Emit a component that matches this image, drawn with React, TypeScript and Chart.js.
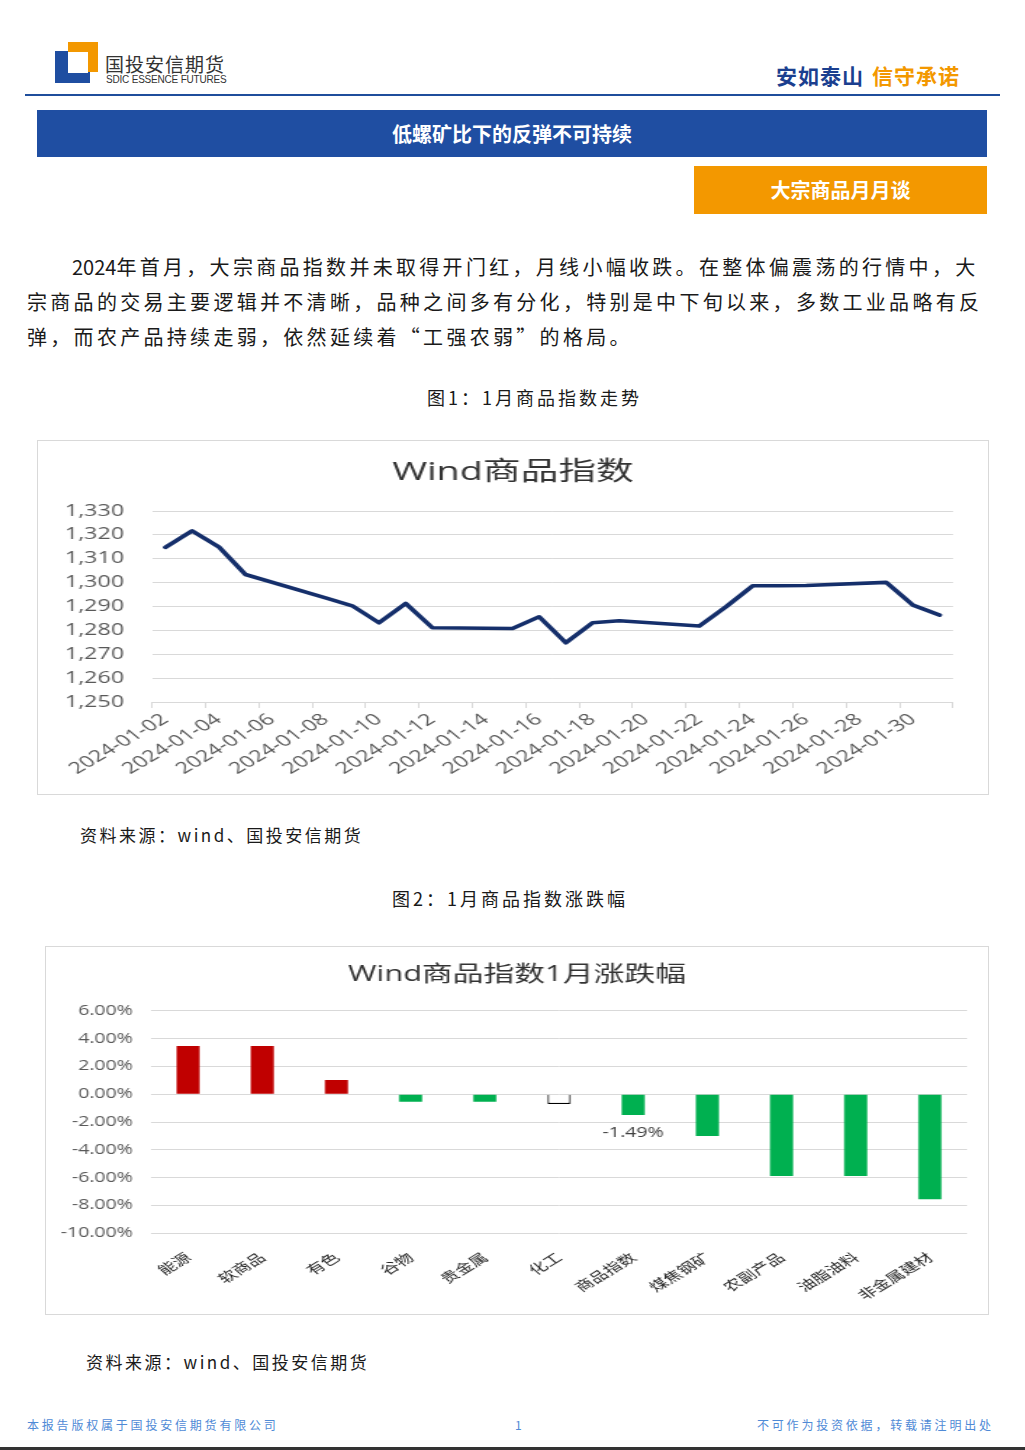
import React, { useEffect, useRef } from 'react';
import { Chart, registerables } from 'chart.js';

Chart.register(...registerables);

// ---------- Data: Figure 1 (Wind commodity index, daily close, Jan 2024) ----------
const indexDates = [
  '2024-01-02', '2024-01-03', '2024-01-04', '2024-01-05', '2024-01-08', '2024-01-09',
  '2024-01-10', '2024-01-11', '2024-01-12', '2024-01-15', '2024-01-16', '2024-01-17',
  '2024-01-18', '2024-01-19', '2024-01-22', '2024-01-23', '2024-01-24', '2024-01-25',
  '2024-01-26', '2024-01-29', '2024-01-30', '2024-01-31',
];
const indexValues = [
  1314.8, 1321.7, 1315.0, 1303.4, 1293.6, 1290.3,
  1283.2, 1291.3, 1281.1, 1280.8, 1285.7, 1274.8,
  1283.2, 1284.0, 1281.8, 1289.9, 1298.7, 1298.7,
  1298.8, 1300.1, 1290.6, 1286.4,
];
const indexTickDates = [
  '2024-01-02', '2024-01-04', '2024-01-06', '2024-01-08', '2024-01-10',
  '2024-01-12', '2024-01-14', '2024-01-16', '2024-01-18', '2024-01-20',
  '2024-01-22', '2024-01-24', '2024-01-26', '2024-01-28', '2024-01-30',
];
const INDEX_AXIS_FIRST_DAY = 2; // 2024-01-02
const INDEX_AXIS_DAYS = 30; // 2024-01-02 .. 2024-01-31
const INDEX_Y_MIN = 1250;
const INDEX_Y_MAX = 1330;
const INDEX_Y_STEP = 10;

// ---------- Data: Figure 2 (January change by sector) ----------
const sectors = ['能源', '软商品', '有色', '谷物', '贵金属', '化工', '商品指数', '煤焦钢矿', '农副产品', '油脂油料', '非金属建材'];
const sectorChanges = [3.46, 3.46, 1.02, -0.54, -0.54, -0.7, -1.49, -3.0, -5.88, -5.88, -7.55];
const labelledSector = '商品指数';
const hollowSector = '化工';
const CHANGE_Y_MIN = -10;
const CHANGE_Y_MAX = 6;
const CHANGE_Y_STEP = 2;

// ---------- Styles ----------
const LATIN = '"Open Sans", "Noto Sans CJK SC", sans-serif';
const CJK = '"Noto Sans CJK SC", "Noto Sans", sans-serif';
const GRID = '#d9d9d9';
const TICK_TEXT = '#595959';
const TITLE_TEXT = '#333333';
const LINE_COLOR = '#152f6b';
const UP_COLOR = '#c00000';
const DOWN_COLOR = '#00b050';

type Builder = (cw: number, ch: number) => any;

// lets the y tick labels use the layout's left padding instead of being clipped to the axis box
const unclipYLabels = {
  id: 'unclipYLabels',
  afterLayout(chart: any) {
    if (chart.scales.y) chart.scales.y.left = 0;
  },
};

function StretchedChart(props: { left: number; top: number; width: number; height: number; stretch: number; build: Builder }) {
  const { left, top, width, height, stretch, build } = props;
  const ref = useRef<HTMLCanvasElement | null>(null);
  const cw = Math.round(width / stretch);
  useEffect(() => {
    const chart = new Chart(ref.current as HTMLCanvasElement, build(cw, height));
    return () => chart.destroy();
  }, []);
  return (
    <canvas
      ref={ref}
      width={cw}
      height={height}
      style={{
        position: 'absolute',
        left,
        top,
        width: cw + 'px',
        height: height + 'px',
        transform: `scaleX(${width / cw})`,
        transformOrigin: '0 0',
      }}
    />
  );
}

// Figure 1 geometry (page px): canvas box 38..988 x 441..794
const F1 = { left: 38, top: 441, width: 950, height: 353, stretch: 1.45, plotLeft: 152, plotRight: 953, plotTop: 511, plotBottom: 702, titleY: 473, tickRight: 124 };

const buildIndexChart: Builder = (cw, ch) => {
  const s = F1.width / cw;
  const plotLeft = (F1.plotLeft - F1.left) / s;
  const plotRight = (F1.plotRight - F1.left) / s;
  const side = cw - plotRight;
  const plotTop = F1.plotTop - F1.top;
  const plotBottom = F1.plotBottom - F1.top;
  const slot = (plotRight - plotLeft) / INDEX_AXIS_DAYS;
  const titleSize = 26;
  const titleCenter = F1.titleY - F1.top;
  const padTop = titleCenter - (titleSize * 1.2) / 2;
  const padBottom = plotTop - padTop - titleSize * 1.2;
  const points = indexDates.map((d, i) => ({
    x: Number(d.slice(8)) - INDEX_AXIS_FIRST_DAY + 0.5,
    y: indexValues[i],
  }));
  return {
    type: 'line',
    data: {
      datasets: [
        {
          data: points,
          borderColor: LINE_COLOR,
          borderWidth: 3.6,
          pointRadius: 0,
          tension: 0,
          spanGaps: true,
          fill: false,
          borderJoinStyle: 'round',
          borderCapStyle: 'round',
        },
      ],
    },
    plugins: [unclipYLabels],
    options: {
      animation: false,
      responsive: false,
      maintainAspectRatio: false,
      devicePixelRatio: 1,
      layout: { padding: { left: side, right: side, top: 0, bottom: 0 } },
      plugins: {
        legend: { display: false },
        tooltip: { enabled: false },
        title: {
          display: true,
          text: 'Wind商品指数',
          color: TITLE_TEXT,
          font: { family: LATIN, size: titleSize, weight: 'normal', lineHeight: 1.2 },
          padding: { top: padTop, bottom: padBottom },
        },
      },
      scales: {
        x: {
          type: 'linear',
          min: 0,
          max: INDEX_AXIS_DAYS,
          afterBuildTicks: (scale: any) => {
            scale.ticks = indexTickDates.map((_, i) => ({ value: i * 2 })).concat([{ value: INDEX_AXIS_DAYS }]);
          },
          ticks: {
            autoSkip: false,
            maxRotation: 40,
            minRotation: 40,
            labelOffset: slot / 2,
            padding: 2,
            color: TICK_TEXT,
            font: { family: LATIN, size: 16 },
            callback: (value: any) => {
              const v = Number(value);
              return v % 2 === 0 && v / 2 < indexTickDates.length ? indexTickDates[v / 2] : '';
            },
          },
          grid: { drawOnChartArea: false, drawTicks: true, tickLength: 6, color: GRID },
          border: { display: true, color: GRID },
          afterFit: (scale: any) => {
            scale.height = ch - plotBottom;
          },
        },
        y: {
          min: INDEX_Y_MIN,
          max: INDEX_Y_MAX,
          ticks: {
            stepSize: INDEX_Y_STEP,
            padding: plotLeft - (F1.tickRight - F1.left) / s,
            color: TICK_TEXT,
            font: { family: LATIN, size: 16 },
            callback: (v: any) => Number(v).toLocaleString('en-US'),
          },
          grid: { color: GRID, drawTicks: false },
          border: { display: false },
          afterFit: (scale: any) => {
            scale.width = plotLeft - side;
          },
        },
      },
    },
  };
};

// Figure 2 geometry (page px): canvas box 46..988 x 947..1314
const F2 = { left: 46, top: 947, width: 942, height: 367, stretch: 1.4, plotLeft: 151, plotRight: 967, plotTop: 1010.7, plotBottom: 1233.3, titleY: 975, tickRight: 133 };

const buildChangeChart: Builder = (cw, ch) => {
  const s = F2.width / cw;
  const plotLeft = (F2.plotLeft - F2.left) / s;
  const plotRight = (F2.plotRight - F2.left) / s;
  const side = cw - plotRight;
  const plotTop = F2.plotTop - F2.top;
  const plotBottom = F2.plotBottom - F2.top;
  const titleSize = 22;
  const titleCenter = F2.titleY - F2.top;
  const padTop = titleCenter - (titleSize * 1.2) / 2;
  const padBottom = plotTop - padTop - titleSize * 1.2;
  const fills = sectors.map((name, i) => (name === hollowSector ? '#ffffff' : sectorChanges[i] >= 0 ? UP_COLOR : DOWN_COLOR));
  const borders = sectors.map((name) => (name === hollowSector ? 1.2 : 0));
  const labelPlugin = {
    id: 'sectorLabel',
    afterDatasetsDraw(chart: any) {
      const i = sectors.indexOf(labelledSector);
      const el = chart.getDatasetMeta(0).data[i];
      if (!el) return;
      const ctx = chart.ctx;
      ctx.save();
      ctx.font = `14px ${LATIN}`;
      ctx.fillStyle = '#404040';
      ctx.textAlign = 'center';
      ctx.textBaseline = 'middle';
      ctx.fillText(`${sectorChanges[i].toFixed(2)}%`, el.x, el.y + 18);
      ctx.restore();
    },
  };
  return {
    type: 'bar',
    data: {
      labels: sectors,
      datasets: [
        {
          data: sectorChanges,
          backgroundColor: fills,
          borderColor: '#000000',
          borderWidth: borders,
          borderSkipped: 'start',
          barPercentage: 0.31,
          categoryPercentage: 1,
        },
      ],
    },
    plugins: [labelPlugin, unclipYLabels],
    options: {
      animation: false,
      responsive: false,
      maintainAspectRatio: false,
      devicePixelRatio: 1,
      layout: { padding: { left: side, right: side, top: 0, bottom: 0 } },
      plugins: {
        legend: { display: false },
        tooltip: { enabled: false },
        title: {
          display: true,
          text: 'Wind商品指数1月涨跌幅',
          color: TITLE_TEXT,
          font: { family: LATIN, size: titleSize, weight: 'normal', lineHeight: 1.2 },
          padding: { top: padTop, bottom: padBottom },
        },
      },
      scales: {
        x: {
          ticks: {
            autoSkip: false,
            maxRotation: 40,
            minRotation: 40,
            padding: 8,
            color: '#262626',
            font: { family: CJK, size: 13 },
          },
          grid: { display: false },
          border: { display: false },
          afterFit: (scale: any) => {
            scale.height = ch - plotBottom;
          },
        },
        y: {
          min: CHANGE_Y_MIN,
          max: CHANGE_Y_MAX,
          ticks: {
            stepSize: CHANGE_Y_STEP,
            padding: plotLeft - (F2.tickRight - F2.left) / s,
            color: TICK_TEXT,
            font: { family: LATIN, size: 14 },
            callback: (v: any) => `${Number(v).toFixed(2)}%`,
          },
          grid: { color: GRID, drawTicks: false },
          border: { display: false },
          afterFit: (scale: any) => {
            scale.width = plotLeft - side;
          },
        },
      },
    },
  };
};

const abs = (left: number, top: number, extra: any = {}) => ({ position: 'absolute' as const, left, top, ...extra });

export default function App() {
  const bodyText = {
    fontFamily: CJK,
    fontSize: 20,
    lineHeight: '35px',
    letterSpacing: '3.3px',
    color: '#1a1a1a',
    whiteSpace: 'nowrap' as const,
  };
  const digits = { letterSpacing: '0px' };
  return (
    <div style={{ position: 'absolute', left: 0, top: 0, width: 1025, height: 1450, background: '#ffffff', overflow: 'hidden' }}>
      {/* Logo */}
      <div style={abs(55, 51, { width: 35, height: 32, background: '#1f4ea1' })} />
      <div style={abs(68, 42, { width: 30, height: 30, background: '#f39800' })} />
      <div style={abs(68, 52, { width: 20, height: 21, background: '#ffffff' })} />
      <div style={abs(105, 52, { fontFamily: CJK, fontSize: 19, lineHeight: '24px', letterSpacing: '1px', color: '#333333', whiteSpace: 'nowrap' })}>国投安信期货</div>
      <div style={abs(106, 74, { fontFamily: '"Liberation Sans", Arial, sans-serif', fontSize: 10, lineHeight: '12px', letterSpacing: '-0.2px', color: '#333333', whiteSpace: 'nowrap' })}>SDIC ESSENCE FUTURES</div>

      {/* Slogan */}
      <div style={abs(776, 62, { fontFamily: CJK, fontSize: 21, fontWeight: 'bold', lineHeight: '26px', letterSpacing: '1px', color: '#1b3f8f', whiteSpace: 'nowrap' })}>安如泰山</div>
      <div style={abs(872, 62, { fontFamily: CJK, fontSize: 21, fontWeight: 'bold', lineHeight: '26px', letterSpacing: '1px', color: '#f39800', whiteSpace: 'nowrap' })}>信守承诺</div>
      <div style={abs(25, 94, { width: 975, height: 2, background: '#1f4e9c' })} />

      {/* Banners */}
      <div style={abs(37, 110, { width: 950, height: 47, background: '#1f4ea2', color: '#ffffff', fontFamily: CJK, fontWeight: 'bold', fontSize: 20, lineHeight: '47px', textAlign: 'center' })}>低螺矿比下的反弹不可持续</div>
      <div style={abs(694, 166, { width: 293, height: 48, background: '#f39800', color: '#ffffff', fontFamily: CJK, fontWeight: 'bold', fontSize: 20, lineHeight: '48px', textAlign: 'center' })}>大宗商品月月谈</div>

      {/* Paragraph */}
      <div style={abs(72, 248.5, bodyText)}><span style={digits}>2024</span>年首月，大宗商品指数并未取得开门红，月线小幅收跌。在整体偏震荡的行情中，大</div>
      <div style={abs(27, 283.5, bodyText)}>宗商品的交易主要逻辑并不清晰，品种之间多有分化，特别是中下旬以来，多数工业品略有反</div>
      <div style={abs(27, 318.5, bodyText)}>弹，而农产品持续走弱，依然延续着“工强农弱”的格局。</div>

      {/* Figure 1 */}
      <div style={abs(427, 385, { fontFamily: CJK, fontSize: 18, lineHeight: '24px', letterSpacing: '3px', color: '#1a1a1a', whiteSpace: 'nowrap' })}>图1：1月商品指数走势</div>
      <div style={abs(37, 440, { width: 950, height: 353, border: `1px solid ${GRID}` })} />
      <StretchedChart left={F1.left} top={F1.top} width={F1.width} height={F1.height} stretch={F1.stretch} build={buildIndexChart} />
      <div style={abs(80, 823, { fontFamily: CJK, fontSize: 17, lineHeight: '24px', letterSpacing: '2.5px', color: '#1a1a1a', whiteSpace: 'nowrap' })}>资料来源：wind、国投安信期货</div>

      {/* Figure 2 */}
      <div style={abs(392, 886, { fontFamily: CJK, fontSize: 18, lineHeight: '24px', letterSpacing: '3px', color: '#1a1a1a', whiteSpace: 'nowrap' })}>图2：1月商品指数涨跌幅</div>
      <div style={abs(45, 946, { width: 942, height: 367, border: `1px solid ${GRID}` })} />
      <StretchedChart left={F2.left} top={F2.top} width={F2.width} height={F2.height} stretch={F2.stretch} build={buildChangeChart} />
      <div style={abs(86, 1350, { fontFamily: CJK, fontSize: 17, lineHeight: '24px', letterSpacing: '2.5px', color: '#1a1a1a', whiteSpace: 'nowrap' })}>资料来源：wind、国投安信期货</div>

      {/* Footer */}
      <div style={abs(27, 1417, { fontFamily: CJK, fontSize: 12, lineHeight: '16px', letterSpacing: '2.8px', color: '#4f8ad6', whiteSpace: 'nowrap' })}>本报告版权属于国投安信期货有限公司</div>
      <div style={abs(515, 1417, { fontFamily: CJK, fontSize: 12, lineHeight: '16px', color: '#4f8ad6' })}>1</div>
      <div style={abs(757, 1417, { fontFamily: CJK, fontSize: 12, lineHeight: '16px', letterSpacing: '2.8px', color: '#4f8ad6', whiteSpace: 'nowrap' })}>不可作为投资依据，转载请注明出处</div>
      <div style={abs(0, 1447, { width: 1025, height: 3, background: '#333333' })} />
    </div>
  );
}
